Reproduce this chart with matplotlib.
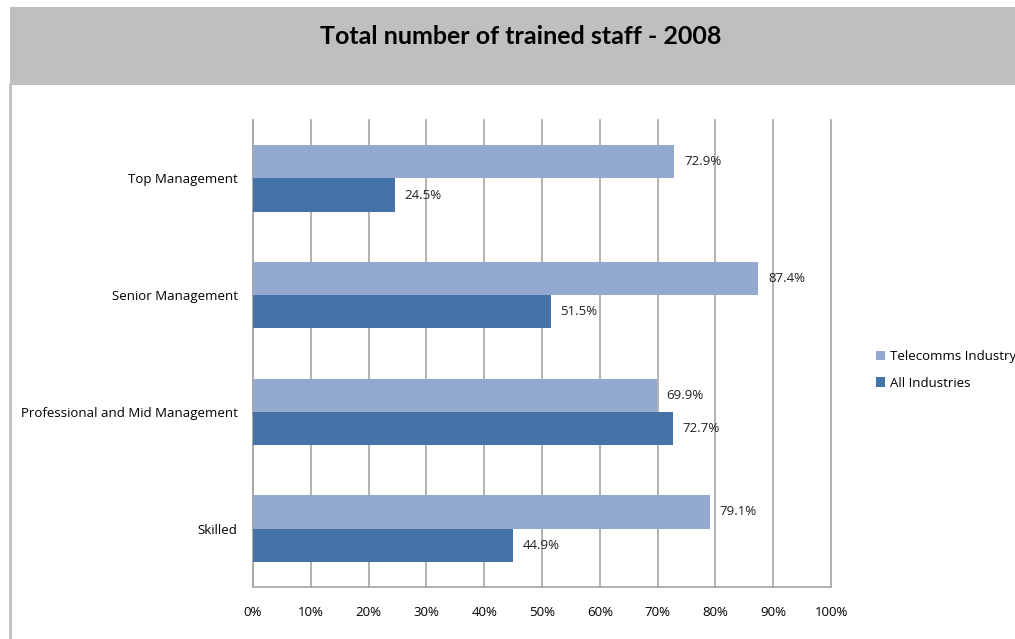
import matplotlib
matplotlib.use("Agg")
import matplotlib.pyplot as plt
from matplotlib.patches import Rectangle
from matplotlib.lines import Line2D
import numpy as np

categories = ["Top Management", "Senior Management",
              "Professional and Mid Management", "Skilled"]
telecomms = [72.9, 87.4, 69.9, 79.1]
all_industries = [24.5, 51.5, 72.7, 44.9]
series_names = ["Telecomms Industry", "All Industries"]
x_ticks = [0, 10, 20, 30, 40, 50, 60, 70, 80, 90, 100]

light = "#93a9cf"
dark = "#4573a7"
grid_col = "#a6a6a6"
font = ["Open Sans", "DejaVu Sans"]

fig = plt.figure(figsize=(10.15, 6.39), dpi=100)
fig.patch.set_facecolor("white")

# title banner and left frame line
fig.patches.append(Rectangle((10 / 1015, 1 - 85 / 639), 1, 78 / 639,
                             transform=fig.transFigure, facecolor="#bfbfbf",
                             edgecolor="none", zorder=0))
fig.lines.append(Line2D([10 / 1015, 10 / 1015], [0, 1 - 85 / 639],
                        transform=fig.transFigure, color="#bfbfbf", lw=2))
fig.text(0.513, 1 - 36 / 639, "Total number of trained staff - 2008",
         ha="center", va="center", fontsize=18, fontweight="bold",
         family=["Lato", "DejaVu Sans"])

ax = fig.add_axes([253 / 1015, 1 - 587 / 639, 578 / 1015, 467 / 639])
y = np.arange(len(categories))
h = 0.285
b1 = ax.barh(y - h / 2, telecomms, height=h, color=light, zorder=3,
             label=series_names[0])
b2 = ax.barh(y + h / 2, all_industries, height=h, color=dark, zorder=3,
             label=series_names[1])

for bars, vals in ((b1, telecomms), (b2, all_industries)):
    for bar, v in zip(bars, vals):
        ax.annotate(f"{v:.1f}%", (v, bar.get_y() + bar.get_height() / 2),
                    xytext=(7, 0), textcoords="offset points",
                    va="center", ha="left", fontsize=9.5, family=font,
                    color="#222222", zorder=4)

ax.set_xlim(0, 100)
ax.set_ylim(len(categories) - 0.5, -0.5)
ax.set_xticks(x_ticks)
ax.set_xticklabels([f"{t}%" for t in x_ticks], family=font, fontsize=9.5)
ax.set_yticks(y)
ax.set_yticklabels(categories, family=font, fontsize=9.5)
ax.tick_params(axis="x", length=0, pad=14)
ax.tick_params(axis="y", length=0, pad=11)
ax.grid(axis="x", color=grid_col, lw=1.2, zorder=0)
for gl in ax.get_xgridlines():
    gl.set_clip_on(False)
for s in ("top", "right"):
    ax.spines[s].set_visible(False)
for s in ("left", "bottom"):
    ax.spines[s].set_color(grid_col)
    ax.spines[s].set_linewidth(1.2)

fig.legend(handles=[b1, b2], loc="center left",
           bbox_to_anchor=(864 / 1015, 1 - 370 / 639), frameon=False,
           prop={"family": font, "size": 9.5}, handlelength=0.7,
           handleheight=0.7, handletextpad=0.4, labelspacing=1.0)

fig.savefig("out.png", dpi=100)
